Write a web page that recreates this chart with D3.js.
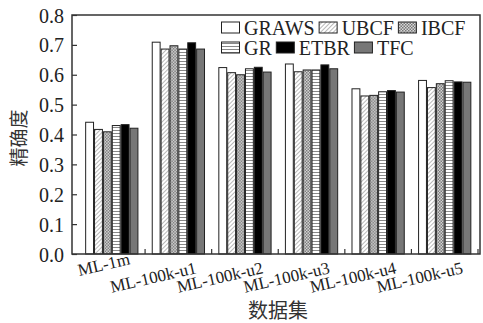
<!DOCTYPE html>
<html>
<head>
<meta charset="utf-8">
<script src="https://cdn.jsdelivr.net/npm/d3@7"></script>
<style>
  html, body { margin: 0; padding: 0; background: #fff; }
  svg { display: block; }
</style>
</head>
<body>
<svg id="chart" width="483" height="323"></svg>
<script>
// Datasets on the x axis
const categories = ["ML-1m", "ML-100k-u1", "ML-100k-u2", "ML-100k-u3", "ML-100k-u4", "ML-100k-u5"];
// Methods (series)
const methods = ["GRAWS", "UBCF", "IBCF", "GR", "ETBR", "TFC"];
// Precision per method, one value per dataset
const GRAWS = [0.441, 0.709, 0.624, 0.636, 0.553, 0.581];
const UBCF  = [0.417, 0.686, 0.607, 0.610, 0.529, 0.557];
const IBCF  = [0.409, 0.697, 0.600, 0.616, 0.531, 0.570];
const GR    = [0.430, 0.686, 0.620, 0.616, 0.543, 0.580];
const ETBR  = [0.433, 0.707, 0.625, 0.633, 0.547, 0.576];
const TFC   = [0.421, 0.686, 0.609, 0.620, 0.542, 0.575];
const yTicks = [0.0, 0.1, 0.2, 0.3, 0.4, 0.5, 0.6, 0.7, 0.8];

const seriesValues = { GRAWS, UBCF, IBCF, GR, ETBR, TFC };

const SERIF = "Liberation Serif";
const CJK = "Noto Sans CJK SC";

const svg = d3.select("#chart");
const plot = { left: 72, right: 480, top: 15, bottom: 254 };

// Fill patterns
const defs = svg.append("defs");
const pDiag = defs.append("pattern").attr("id", "p-diag")
  .attr("patternUnits", "userSpaceOnUse").attr("width", 3).attr("height", 3)
  .attr("patternTransform", "rotate(45)");
pDiag.append("rect").attr("width", 3).attr("height", 3).attr("fill", "#fff");
pDiag.append("line").attr("x1", 0).attr("y1", 0).attr("x2", 0).attr("y2", 3)
  .attr("stroke", "#888").attr("stroke-width", 1.2);

const pCheck = defs.append("pattern").attr("id", "p-check")
  .attr("patternUnits", "userSpaceOnUse").attr("width", 3).attr("height", 3);
pCheck.append("rect").attr("width", 3).attr("height", 3).attr("fill", "#d8d8d8");
pCheck.append("rect").attr("width", 1.5).attr("height", 1.5).attr("fill", "#777");
pCheck.append("rect").attr("x", 1.5).attr("y", 1.5).attr("width", 1.5).attr("height", 1.5).attr("fill", "#777");

const pHoriz = defs.append("pattern").attr("id", "p-horiz")
  .attr("patternUnits", "userSpaceOnUse").attr("width", 4).attr("height", 3);
pHoriz.append("rect").attr("width", 4).attr("height", 3).attr("fill", "#fff");
pHoriz.append("line").attr("x1", 0).attr("y1", 1.5).attr("x2", 4).attr("y2", 1.5)
  .attr("stroke", "#888").attr("stroke-width", 1);

const fills = {
  GRAWS: "#fff",
  UBCF: "url(#p-diag)",
  IBCF: "url(#p-check)",
  GR: "url(#p-horiz)",
  ETBR: "#000",
  TFC: "#777"
};

// Scales
const x0 = d3.scaleBand().domain(categories).range([78.5, 478])
  .paddingInner(0.2).paddingOuter(0.1);
const x1 = d3.scaleBand().domain(methods).range([0, x0.bandwidth()]);
const y = d3.scaleLinear().domain([0, 0.8]).range([plot.bottom, plot.top]);

// Bars
const groups = svg.append("g").selectAll("g").data(categories).join("g")
  .attr("transform", d => `translate(${x0(d)},0)`);
groups.selectAll("rect")
  .data((c, i) => methods.map(m => ({ m, v: seriesValues[m][i] })))
  .join("rect")
  .attr("x", d => x1(d.m) + 0.5)
  .attr("y", d => y(d.v))
  .attr("width", x1.bandwidth() - 1)
  .attr("height", d => y(0) - y(d.v))
  .attr("fill", d => fills[d.m])
  .attr("stroke", "#222")
  .attr("stroke-width", 1);

// Frame
const axisColor = "#333";
svg.append("rect")
  .attr("x", plot.left).attr("y", plot.top)
  .attr("width", plot.right - plot.left).attr("height", plot.bottom - plot.top)
  .attr("fill", "none").attr("stroke", axisColor).attr("stroke-width", 1.5);

// Y axis (ticks point inward)
const yAxis = d3.axisLeft(y).tickValues(yTicks).tickFormat(d3.format(".1f"))
  .tickSizeInner(-5).tickSizeOuter(0).tickPadding(8);
const gy = svg.append("g").attr("transform", `translate(${plot.left},0)`).call(yAxis)
  .attr("font-family", SERIF).attr("font-size", 20);
gy.select(".domain").remove();
gy.selectAll(".tick line").attr("stroke", axisColor).attr("stroke-width", 1.2);
gy.selectAll(".tick text").attr("fill", "#222").attr("dy", "0.35em");

// X axis boundary ticks between dataset groups
const step = x0.step();
const boundaries = categories.map(c => x0(c) + x0.bandwidth() + step * x0.paddingInner() / 2);
svg.append("g").selectAll("line").data(boundaries).join("line")
  .attr("x1", d => d).attr("x2", d => d)
  .attr("y1", plot.bottom).attr("y2", plot.bottom - 5)
  .attr("stroke", axisColor).attr("stroke-width", 1.2);

// X tick labels, rotated
svg.append("g").attr("font-family", SERIF).attr("font-size", 17).attr("fill", "#222")
  .selectAll("text").data(categories).join("text")
  .attr("text-anchor", "end")
  .attr("transform", d => `translate(${x0(d) + x0.bandwidth() / 2 + 19},${d === "ML-1m" ? 264 : 273}) rotate(-13)`)
  .text(d => d);

// Axis titles
svg.append("text").attr("font-family", CJK).attr("font-size", 19).attr("fill", "#333")
  .attr("text-anchor", "middle")
  .attr("transform", "translate(26,138) rotate(-90)")
  .text("精确度");
svg.append("text").attr("font-family", CJK).attr("font-size", 20).attr("fill", "#333")
  .attr("text-anchor", "middle")
  .attr("x", 278).attr("y", 318)
  .text("数据集");

// Legend: two rows, three entries each, flowing left to right
const legendRows = [methods.slice(0, 3), methods.slice(3)];
legendRows.forEach((row, r) => {
  let cx = 221;
  const baseline = 35 + r * 20;
  row.forEach(m => {
    svg.append("rect")
      .attr("x", cx + 0.5).attr("y", baseline - 13)
      .attr("width", 18).attr("height", 11)
      .attr("fill", fills[m]).attr("stroke", "#222").attr("stroke-width", 1);
    const t = svg.append("text").attr("font-family", SERIF).attr("font-size", 20)
      .attr("fill", "#222").attr("x", cx + 23).attr("y", baseline).text(m);
    cx = cx + 23 + t.node().getComputedTextLength() + 4;
  });
});
</script>
</body>
</html>
